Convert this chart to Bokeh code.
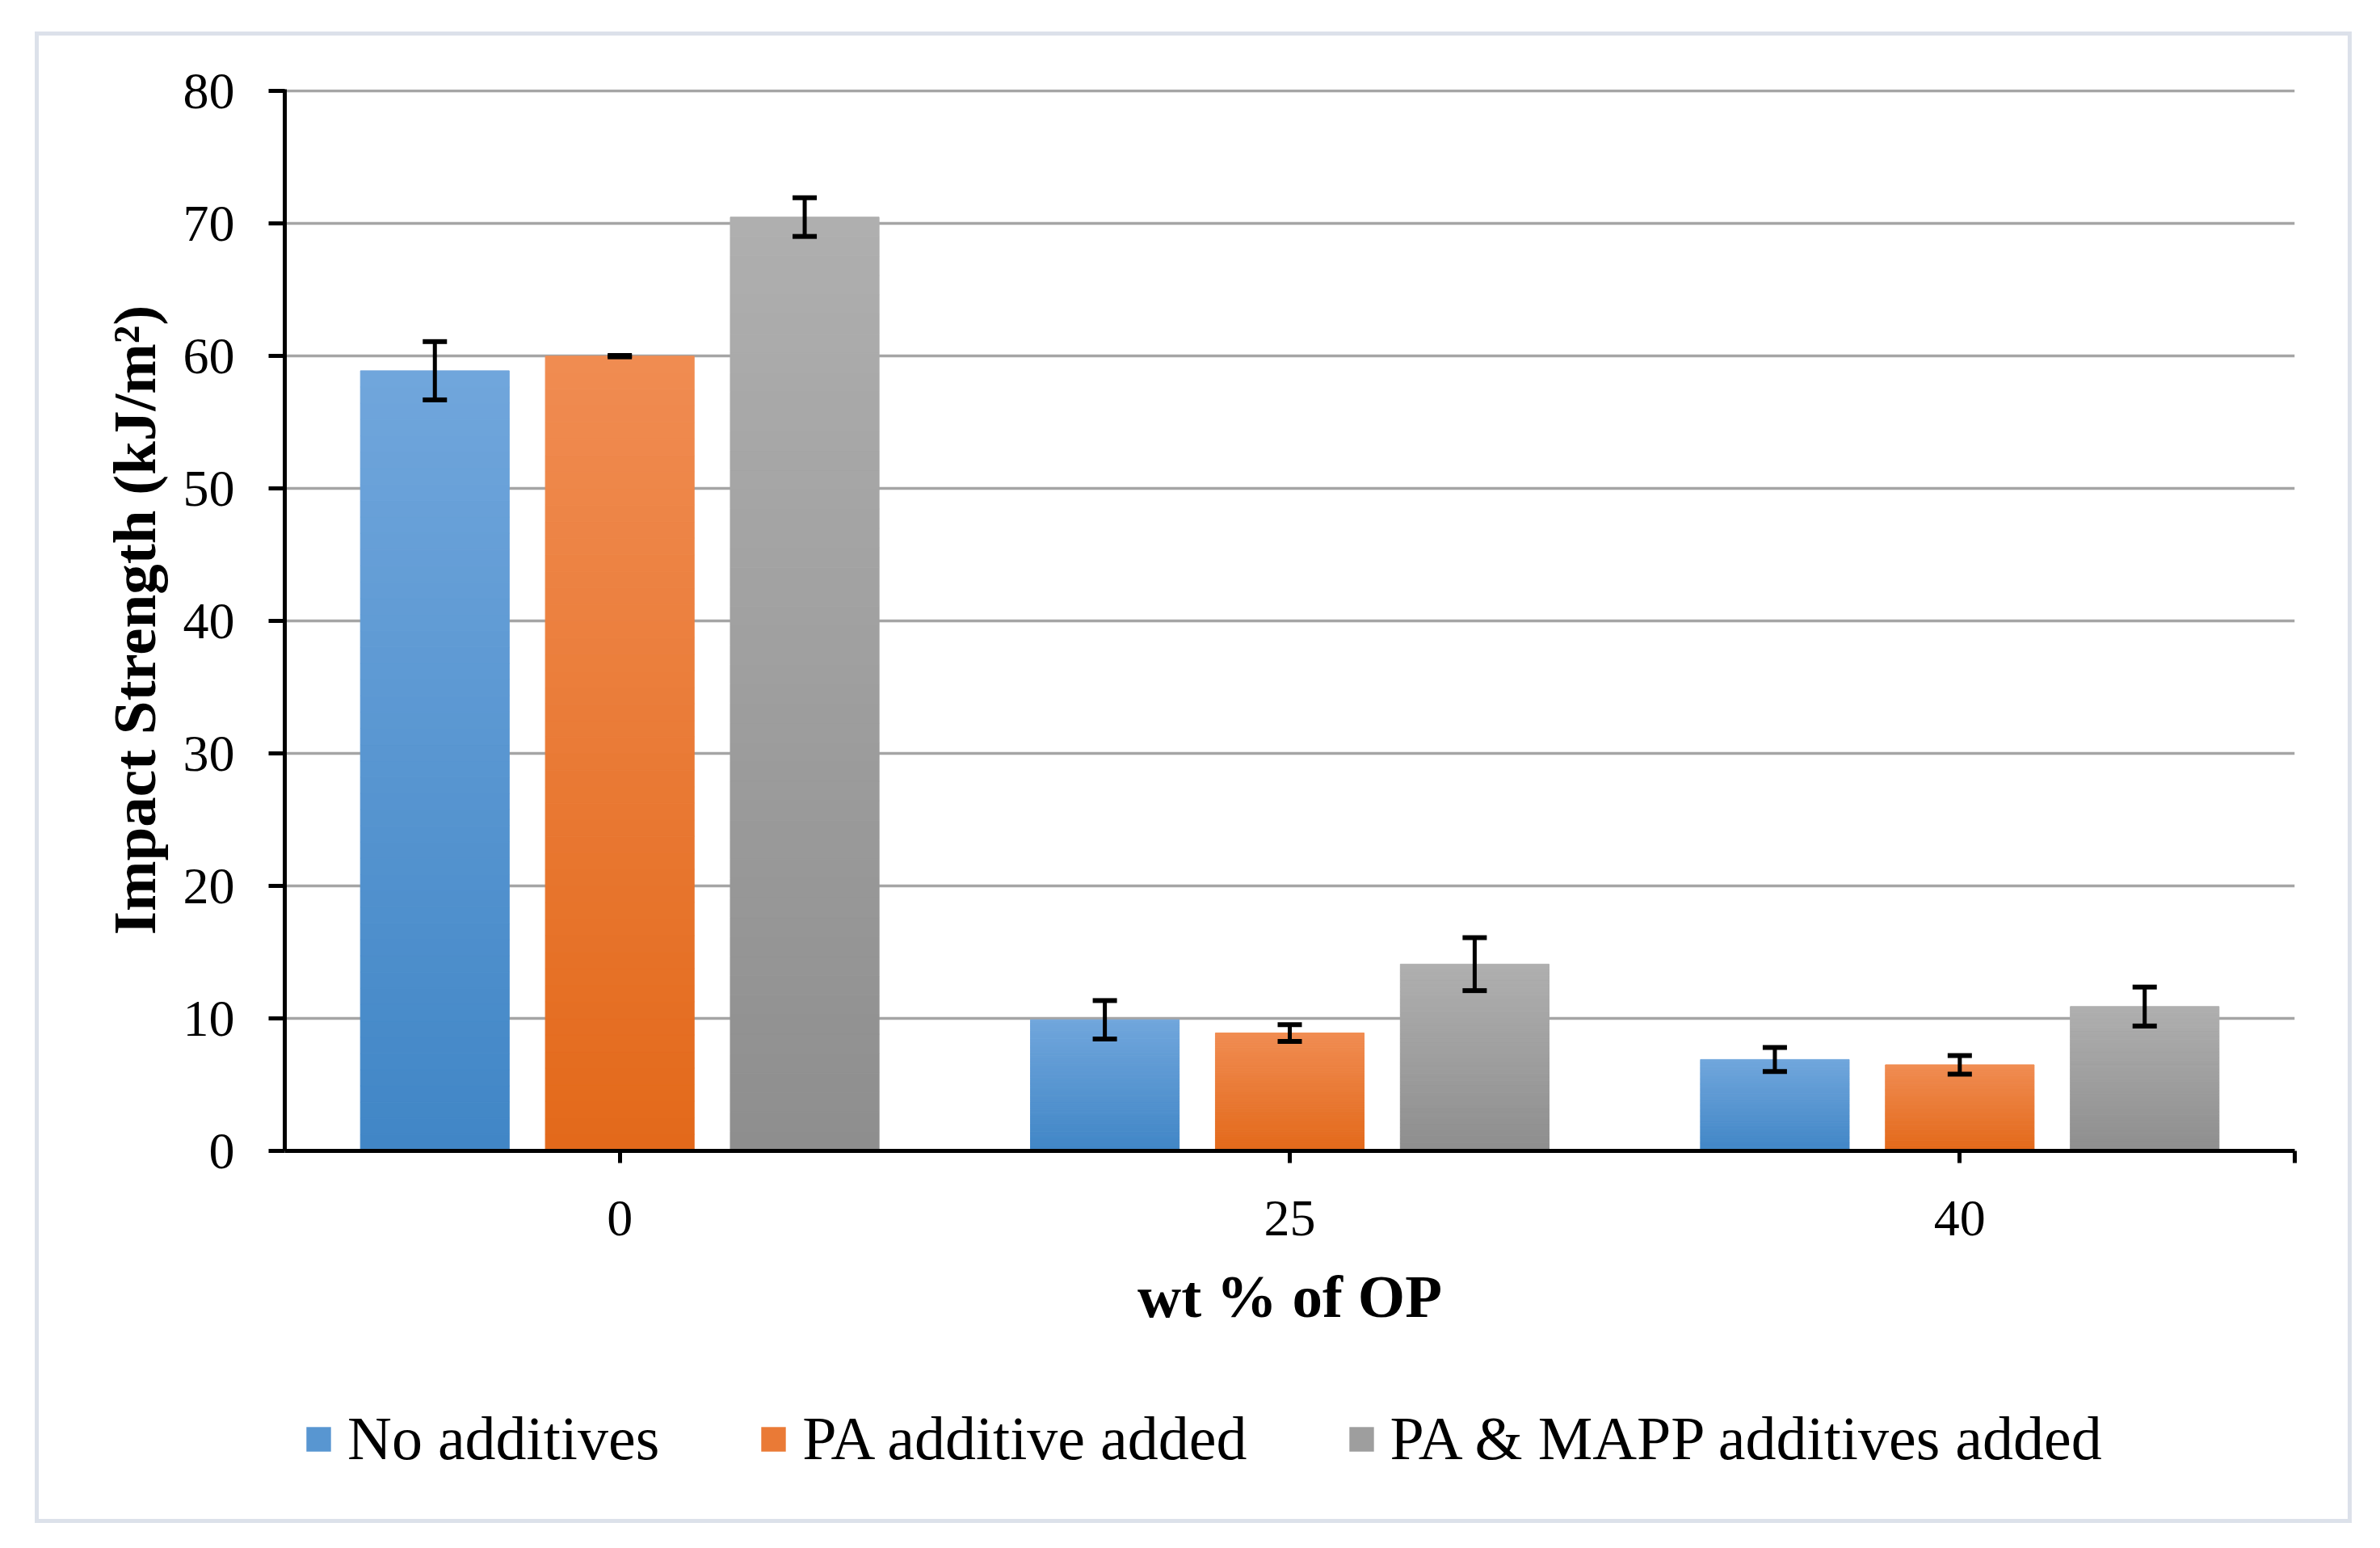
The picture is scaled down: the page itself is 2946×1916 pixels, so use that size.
import numpy as np
from bokeh.plotting import figure
from bokeh.layouts import column
from bokeh.models import (ColumnDataSource, Range1d, FixedTicker, Whisker, TeeHead,
                          Legend, LegendItem, InlineStyleSheet)
from bokeh.embed import file_html
from bokeh.resources import INLINE

# ---------------- data ----------------
categories = ["0", "25", "40"]
series_names = ["No additives", "PA additive added", "PA & MAPP additives added"]
no_additives = [58.9, 9.9, 6.9]
no_additives_err = [2.2, 1.45, 0.9]
pa_added = [60.0, 8.9, 6.5]
pa_added_err = [0.05, 0.63, 0.7]
pa_mapp_added = [70.5, 14.1, 10.9]
pa_mapp_added_err = [1.46, 2.0, 1.47]
y_ticks = [0, 10, 20, 30, 40, 50, 60, 70, 80]

# ---------------- style ----------------
top_colors = ["#70A6DC", "#F08C52", "#AFAFAF"]
bottom_colors = ["#4186C6", "#E3691A", "#8E8E8E"]
offsets = [-0.276, 0.0, 0.276]
bar_width = 0.222
N_STEPS = 48
FONT = "Liberation Serif"


def mix(c1, c2, t):
    a = [int(c1[i:i + 2], 16) for i in (1, 3, 5)]
    b = [int(c2[i:i + 2], 16) for i in (1, 3, 5)]
    return "#%02x%02x%02x" % tuple(int(round(a[j] + (b[j] - a[j]) * t)) for j in range(3))


W = 2930
H_MAIN = 1700
H_LEG = 200

p = figure(width=W, height=H_MAIN, output_backend="svg", toolbar_location=None,
           x_range=Range1d(0, len(categories)), y_range=Range1d(0, 80.15),
           min_border_left=352, min_border_right=W - 2840, min_border_top=110,
           min_border_bottom=H_MAIN - 1424)
p.outline_line_color = None
p.background_fill_color = "white"
p.border_fill_color = "white"

series_vals = [no_additives, pa_added, pa_mapp_added]
series_errs = [no_additives_err, pa_added_err, pa_mapp_added_err]

for s, (vals, errs) in enumerate(zip(series_vals, series_errs)):
    xs, bots, tops, cols = [], [], [], []
    for i, v in enumerate(vals):
        for k in range(N_STEPS):
            xs.append(i + 0.5 + offsets[s])
            bots.append(v * k / N_STEPS)
            tops.append(v * (k + 1) / N_STEPS)
            cols.append(mix(bottom_colors[s], top_colors[s], (k + 0.5) / N_STEPS))
    src = ColumnDataSource(dict(x=xs, bottom=bots, top=tops, color=cols))
    p.vbar(x="x", bottom="bottom", top="top", width=bar_width, source=src,
           fill_color="color", line_color="color", line_width=1)

    esrc = ColumnDataSource(dict(
        x=[i + 0.5 + offsets[s] for i in range(len(vals))],
        upper=[v + e for v, e in zip(vals, errs)],
        lower=[v - e for v, e in zip(vals, errs)]))
    wh = Whisker(source=esrc, base="x", upper="upper", lower="lower",
                 dimension="height", line_color="black", line_width=5,
                 upper_head=TeeHead(size=30, line_width=6, line_color="black"),
                 lower_head=TeeHead(size=30, line_width=6, line_color="black"),
                 level="overlay")
    p.add_layout(wh)

# ---------------- axes ----------------
tick_pos = [i + 0.5 for i in range(len(categories))] + [float(len(categories))]
p.xaxis.ticker = FixedTicker(ticks=tick_pos)
overrides = {i + 0.5: c for i, c in enumerate(categories)}
overrides[float(len(categories))] = ""
p.xaxis.major_label_overrides = overrides
p.yaxis.ticker = FixedTicker(ticks=y_ticks)

for ax in (p.xaxis[0], p.yaxis[0]):
    ax.axis_line_color = "black"
    ax.axis_line_width = 5
    ax.major_tick_line_color = "black"
    ax.major_tick_line_width = 5
    ax.major_tick_in = 0
    ax.minor_tick_line_color = None
    ax.major_label_text_font = FONT
    ax.major_label_text_font_size = "64px"
    ax.major_label_text_color = "black"
    ax.axis_label_text_font = FONT
    ax.axis_label_text_font_size = "75px"
    ax.axis_label_text_font_style = "bold"
    ax.axis_label_text_color = "black"

p.xaxis.major_tick_out = 15
p.xaxis.major_label_standoff = 47
p.xaxis.axis_label = "wt % of OP"
p.xaxis.axis_label_standoff = 31

p.yaxis.major_tick_out = 20
p.yaxis.major_label_standoff = 42
p.yaxis.axis_label = "Impact Strength (kJ/m²)"
p.yaxis.axis_label_standoff = 16

p.xgrid.visible = False
p.ygrid.ticker = FixedTicker(ticks=y_ticks)
p.ygrid.grid_line_color = "#A5A5A5"
p.ygrid.grid_line_width = 3.5

# ---------------- legend (own strip below the chart) ----------------
# The strip's frame lines up with the chart's frame; the proxy bars that
# feed the legend are hidden, so only their legend swatches are drawn.
pl = figure(width=W, height=H_LEG, output_backend="svg", toolbar_location=None,
            x_range=Range1d(0, len(categories)), y_range=Range1d(-1000, -999),
            min_border_left=0, min_border_right=0, min_border_top=0, min_border_bottom=0)
pl.axis.visible = False
pl.grid.visible = False
pl.outline_line_color = None
pl.background_fill_color = "white"
pl.border_fill_color = "white"

items = []
for s, vals in enumerate(series_vals):
    c = mix(bottom_colors[s], top_colors[s], 0.5)
    r = pl.vbar(x=[i + 0.5 + offsets[s] for i in range(len(vals))], bottom=0, top=vals,
                width=bar_width, fill_color=c, line_color=None)
    r.visible = False
    items.append(LegendItem(label=series_names[s], renderers=[r]))

legend = Legend(items=items, orientation="horizontal", location=(23, 76),
                glyph_width=38, glyph_height=38, label_standoff=17, spacing=122,
                padding=0, margin=0, border_line_color=None, background_fill_alpha=0,
                label_text_font=FONT, label_text_font_size="76px",
                label_text_color="black", click_policy="none")
pl.add_layout(legend, "center")

border_css = InlineStyleSheet(css="""
:host::after {
  content: "";
  position: absolute;
  left: 43px; top: 39px;
  width: 2858px; height: 1836px;
  border: 5px solid #DCE1EA;
  pointer-events: none;
}
""")
layout = column(p, pl, spacing=0, stylesheets=[border_css])

open("out.html", "w").write(file_html(layout, INLINE))
